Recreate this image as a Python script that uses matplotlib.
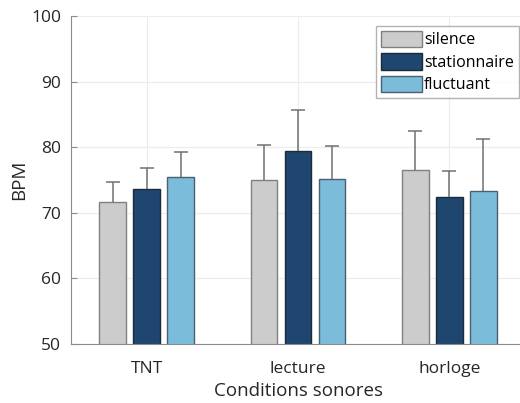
import numpy as np
import matplotlib
matplotlib.use('Agg')
import matplotlib.pyplot as plt

plt.rcParams['font.family'] = ['Open Sans', 'DejaVu Sans']

conditions = ['TNT', 'lecture', 'horloge']
series = ['silence', 'stationnaire', 'fluctuant']
means = {
    'silence': [71.6, 75.0, 76.5],
    'stationnaire': [73.7, 79.4, 72.4],
    'fluctuant': [75.4, 75.1, 73.3],
}
errs = {
    'silence': [3.1, 5.3, 6.0],
    'stationnaire': [3.2, 6.3, 4.0],
    'fluctuant': [3.9, 5.1, 8.0],
}
colors = {'silence': '#cccccc', 'stationnaire': '#1f466e', 'fluctuant': '#7bbcdb'}
edges = {'silence': '#808080', 'stationnaire': '#1a2b3c', 'fluctuant': '#4a6070'}

fig = plt.figure(figsize=(5.2, 4.03), dpi=100)
ax = fig.add_axes([71 / 520, 59 / 403, 454 / 520, 328 / 403])

x = np.arange(1, len(conditions) + 1)
width = 0.176
offsets = [-0.224, 0, 0.224]
for off, s in zip(offsets, series):
    ax.bar(x + off, means[s], width, color=colors[s], edgecolor=edges[s],
           linewidth=1, label=s, zorder=2)
    eb = ax.errorbar(x + off, means[s], yerr=[np.zeros(3), errs[s]], fmt='none',
                     ecolor='#707070', elinewidth=1.1, capsize=5, capthick=1.1, zorder=3)
    # only keep the upper cap
    eb[1][0].set_visible(False)

ax.set_ylim(50, 100)
ax.set_xlim(0.5, 3.5)
ax.set_xticks(x)
ax.set_xticklabels(conditions)
ax.set_yticks(np.arange(50, 101, 10))
ax.grid(True, color='#ececec', linewidth=0.8, zorder=0)
ax.set_axisbelow(True)
for side in ['top', 'right']:
    ax.spines[side].set_visible(False)
for side in ['left', 'bottom']:
    ax.spines[side].set_color('#8c8c8c')
ax.tick_params(colors='#8c8c8c', labelcolor='#262626', labelsize=12.5, length=4, direction='in')
ax.tick_params(axis='x', pad=12)
ax.tick_params(axis='y', pad=7)
ax.set_xlabel('Conditions sonores', fontsize=13.5, color='#262626', labelpad=4)
ax.set_ylabel('BPM', fontsize=13.5, color='#262626', labelpad=2)

lgd = ax.legend(loc='upper left', bbox_to_anchor=(305 / 454, 1 - 10 / 328), fontsize=11.5,
                fancybox=False, edgecolor='#a0a0a0', handlelength=2.6, handleheight=1.2,
                handletextpad=0.1, borderpad=0.3, labelspacing=0.3, borderaxespad=0)
lgd.get_frame().set_linewidth(1)
for p in lgd.get_patches():
    p.set_linewidth(1)

fig.savefig('out.png', dpi=100)
